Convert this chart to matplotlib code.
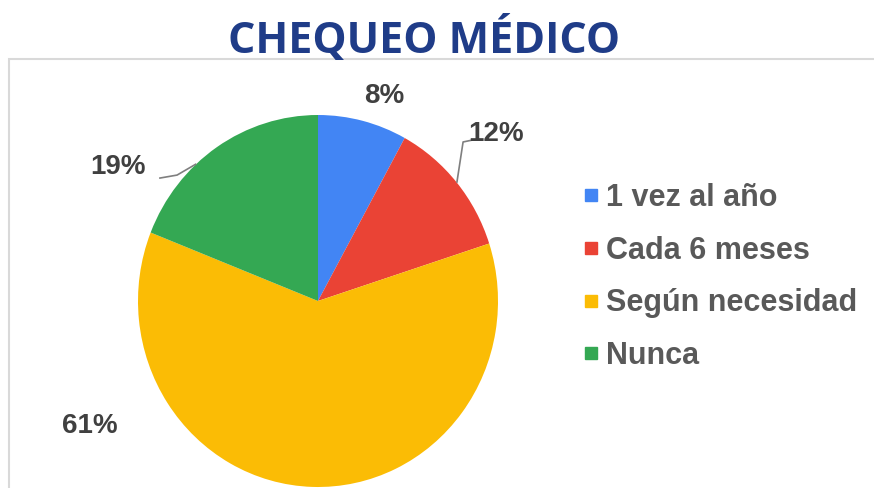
import matplotlib.pyplot as plt
from matplotlib.patches import Rectangle
from matplotlib.lines import Line2D

categories = ['1 vez al año', 'Cada 6 meses', 'Según necesidad', 'Nunca']
values = [8, 12, 61, 19]
colors = ['#4285F4', '#EA4335', '#FBBC05', '#34A853']

# label positions in pie data coords (radius 1), same order as values
label_pos = [(0.37, 1.10), (0.99, 0.90), (-1.27, -0.67), (-1.11, 0.72)]

fig = plt.figure(figsize=(8.74, 4.88), dpi=100)
fig.patch.set_facecolor('white')

# light frame around the chart area
fig.patches.append(Rectangle((9 / 874, -0.05), 1.0, (488 - 59) / 488 + 0.05,
                             transform=fig.transFigure, facecolor='white',
                             edgecolor='#D9D9D9', linewidth=1.5, zorder=-5))

fig.text(424 / 874, 1 - 39 / 488, 'CHEQUEO MÉDICO', ha='center', va='center',
         fontsize=31, fontweight='bold', color='#1F3C88', family='Open Sans')

ax = fig.add_axes([138 / 874, 1 / 488, 360 / 874, 372 / 488])
ax.set_zorder(2)
wedges, _ = ax.pie(values, colors=colors, startangle=90, counterclock=False,
                   wedgeprops=dict(linewidth=0))
ax.set_aspect('auto')
ax.set_xlim(-1, 1)
ax.set_ylim(-1, 1)
ax.axis('off')

for v, (x, y) in zip(values, label_pos):
    ax.text(x, y, f'{v}%', ha='center', va='center', fontsize=20,
            fontweight='bold', color='#404040', family='Liberation Sans')

# leader lines
ax.plot([0.861, 0.806, 0.772], [0.866, 0.855, 0.640], color='#7F7F7F',
        lw=1.2, clip_on=False)
ax.plot([-0.878, -0.783, -0.680], [0.661, 0.677, 0.735], color='#7F7F7F',
        lw=1.2, clip_on=False)

handles = [Line2D([], [], marker='s', linestyle='none', markersize=8,
                  markerfacecolor=c, markeredgecolor=c) for c in colors]
fig.legend(handles, categories, loc='center left',
           bbox_to_anchor=(568 / 874, 1 - 277 / 488), frameon=False,
           prop=dict(family='Liberation Sans', size=22, weight='bold'),
           labelcolor='#595959', handlelength=0.5, handletextpad=0.25,
           labelspacing=0.74, borderpad=0)

fig.savefig('out.png', dpi=100)
